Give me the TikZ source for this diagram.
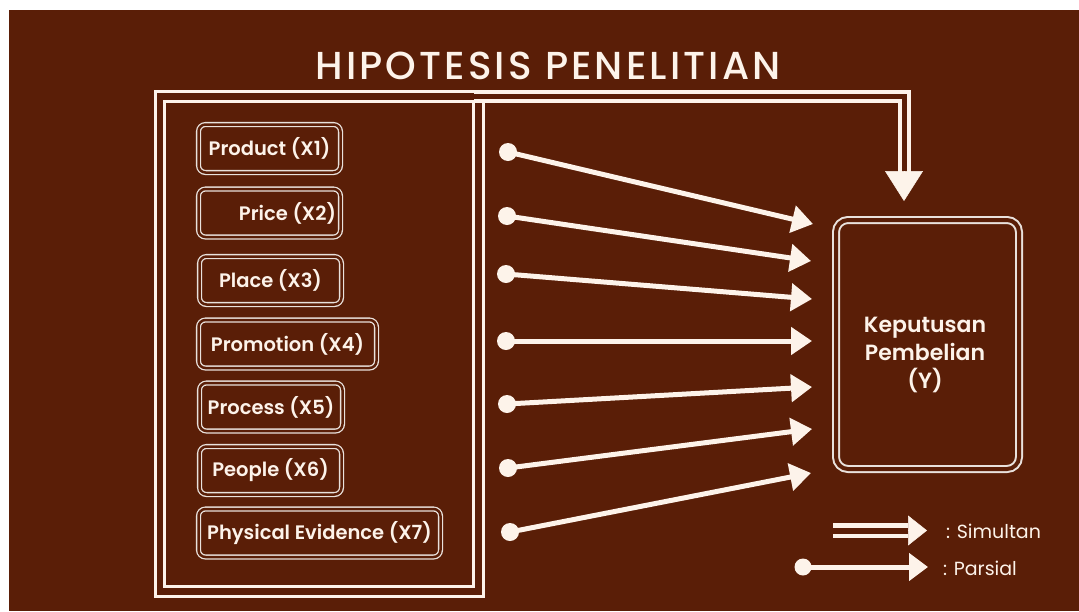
\documentclass[tikz,border=0pt]{standalone}
\usepackage{fontspec}
\setmainfont{Poppins}
\newfontfamily\labelfont{Poppins SemiBold}
\newfontfamily\titlefont[LetterSpace=8]{Poppins Medium}
\usetikzlibrary{arrows.meta}
\definecolor{bgbrown}{HTML}{5A1E07}
\definecolor{cream}{HTML}{FDF3EA}
\definecolor{rim}{HTML}{E9E1DC}
\begin{document}
\begin{tikzpicture}[x=1pt,y=1pt]
	\tikzstyle{every node}+=[inner sep=0pt, outer sep=0pt, text=cream]
	\tikzstyle{xbox}=[draw=rim, double=bgbrown, double distance=2.5pt, line width=1.3pt, rounded corners=7pt, minimum height=48pt, anchor=west, font=\labelfont\fontsize{19.5}{22}\selectfont]
	\tikzstyle{ybox}=[draw=rim, double=bgbrown, double distance=4pt, line width=2pt, rounded corners=12pt]
	\tikzstyle{dot}=[circle, fill=cream, minimum size=18pt]
	\tikzstyle{partial}=[cream, line width=5pt, -{Triangle[length=21pt,width=27pt]}]
	\tikzstyle{simul}=[draw=cream, double=bgbrown, double distance=5pt, line width=4pt]
	\tikzstyle{head}=[cream, line width=0.5pt]
	\useasboundingbox (0,0) rectangle (1079,-611);
	\fill [bgbrown] (9,-10) rectangle (1079,-611);
	\node [font=\titlefont\fontsize{39}{44}\selectfont] (title) at (548,-66) {HIPOTESIS PENELITIAN};
	\node [draw=cream, double=bgbrown, double distance=6.5pt, line width=3pt, minimum width=318.5pt, minimum height=495pt] (frame) at (319.25,-344) {};
	\node [xbox, minimum width=142pt] (x1) at (198.5,-148.5) {Product (X1)};
	\node [xbox, minimum width=142pt] (x2) at (198.5,-213) {\hspace*{36pt}Price (X2)};
	\node [xbox, minimum width=142pt] (x3) at (199.5,-280.5) {Place (X3)};
	\node [xbox, minimum width=178pt] (x4) at (198.5,-344) {Promotion (X4)};
	\node [xbox, minimum width=143pt] (x5) at (199.5,-407) {Process (X5)};
	\node [xbox, minimum width=142pt] (x6) at (199.5,-470.5) {People (X6)};
	\node [xbox, minimum width=242pt] (x7) at (198.5,-533) {Physical Evidence (X7)};
	\node [ybox, minimum width=183pt, minimum height=249pt] (Y) at (927.5,-344.5) {};
	\node [align=center, font=\labelfont\fontsize{22}{28}\selectfont] (ylab) at (925,-355) {Keputusan\\Pembelian\\(Y)};
	\coordinate (s1) at (904,-172);
	\coordinate (s2) at (904,-201);
	\draw [simul] ([xshift=-5pt]frame.north east) -| (s1);
	\draw [head, -{Triangle[length=30pt,width=38pt]}] (s1) -- (s2);
	\node [dot] (p1) at (508,-152) {};
	\node [dot] (p2) at (507,-216) {};
	\node [dot] (p3) at (506,-274) {};
	\node [dot] (p4) at (506,-341) {};
	\node [dot] (p5) at (507,-404) {};
	\node [dot] (p6) at (508,-468) {};
	\node [dot] (p7) at (510,-532) {};
	\coordinate (q1) at (813,-224);
	\coordinate (q2) at (811,-261);
	\coordinate (q3) at (812,-299);
	\coordinate (q4) at (812,-341);
	\coordinate (q5) at (812,-387);
	\coordinate (q6) at (812,-429);
	\coordinate (q7) at (811,-473);
	\draw [partial] (p1.center) -- (q1);
	\draw [partial] (p2.center) -- (q2);
	\draw [partial] (p3.center) -- (q3);
	\draw [partial] (p4.center) -- (q4);
	\draw [partial] (p5.center) -- (q5);
	\draw [partial] (p6.center) -- (q6);
	\draw [partial] (p7.center) -- (q7);
	\coordinate (ls0) at (833,-530.5);
	\coordinate (ls1) at (908,-530.5);
	\coordinate (ls2) at (927,-530.5);
	\draw [simul, line width=4.5pt, double distance=6pt] (ls0) -- (ls1);
	\draw [head, -{Triangle[length=19pt,width=30pt]}] (ls1) -- (ls2);
	\node [dot, minimum size=17pt] (lp) at (803,-567) {};
	\coordinate (lq) at (928,-567);
	\draw [partial, -{Triangle[length=19pt,width=27pt]}] (lp.center) -- (lq);
	\node [anchor=west, font=\fontsize{19}{22}\selectfont] (lsim) at (946,-531) {: Simultan};
	\node [anchor=west, font=\fontsize{19}{22}\selectfont] (lpar) at (943,-568) {: Parsial};
\end{tikzpicture}
\end{document}
